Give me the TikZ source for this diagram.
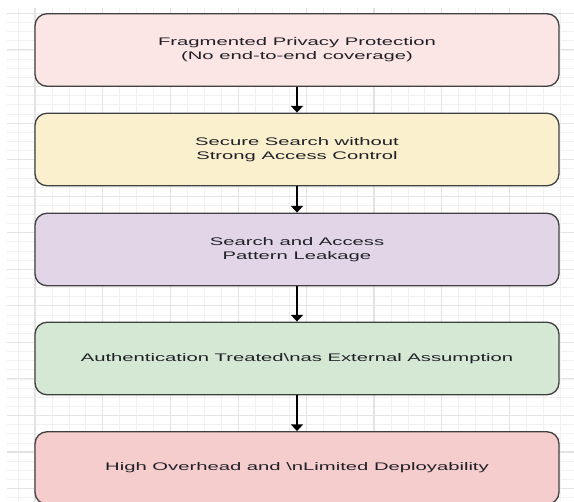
\documentclass[tikz,border=0pt]{standalone}
\usepackage{fontspec}
\setmainfont{Liberation Sans}
\newfontfamily\boxfont[FakeStretch=1.84]{Liberation Sans}
\usetikzlibrary{arrows.meta}
\definecolor{fillone}{HTML}{FBE5E5}
\definecolor{filltwo}{HTML}{FAF0CE}
\definecolor{fillthree}{HTML}{E1D5E7}
\definecolor{fillfour}{HTML}{D5E8D4}
\definecolor{fillfive}{HTML}{F5CDCC}
\definecolor{edgegray}{HTML}{404040}
\definecolor{textgray}{HTML}{202028}
\definecolor{minorgray}{HTML}{F1F1F1}
\definecolor{majorgray}{HTML}{E3E3E3}
\begin{document}
\begin{tikzpicture}[x=0.75pt,y=-0.75pt,
        main/.style = {draw=edgegray, line width=1pt, rounded corners=9pt, minimum width=393pt, minimum height=54.4pt, align=center, text=textgray, font=\boxfont\fontsize{8.25pt}{10.5pt}\selectfont},
        link/.style = {-{Triangle[length=5pt,width=9pt]}, line width=1.1pt, draw=black}]
        \useasboundingbox (0,0) rectangle (574,502);
        \clip (0,0) rectangle (574,502);
        \fill[white] (0,0) rectangle (574,502);
        % grid
        \foreach \i in {-1,...,32} \draw[minorgray, line width=0.6pt] ({35+16.95*\i},8) -- ({35+16.95*\i},502);
        \foreach \j in {0,...,53} \draw[minorgray, line width=0.6pt] (7,{13.4+9.14*\j}) -- (574,{13.4+9.14*\j});
        \foreach \i in {0,...,8} \draw[majorgray, line width=0.8pt] ({35+67.8*\i},8) -- ({35+67.8*\i},502);
        \foreach \j in {0,...,13} \draw[majorgray, line width=0.8pt] (7,{13.4+36.55*\j}) -- (574,{13.4+36.55*\j});
        \node[main, fill=fillone] (1) at (297,50) {Fragmented Privacy Protection\\(No end-to-end coverage)};
        \node[main, fill=filltwo] (2) at (297,149.5) {Secure Search without\\Strong Access Control};
        \node[main, fill=fillthree] (3) at (297,249.5) {Search and Access\\Pattern Leakage};
        \node[main, fill=fillfour] (4) at (297,358.5) {Authentication Treated\textbackslash nas External Assumption};
        \node[main, fill=fillfive] (5) at (297,468) {High Overhead and \textbackslash nLimited Deployability};
        \draw[link] (1) -- (2);
        \draw[link] (2) -- (3);
        \draw[link] (3) -- (4);
        \draw[link] (4) -- (5);
        \end{tikzpicture}
\end{document}
